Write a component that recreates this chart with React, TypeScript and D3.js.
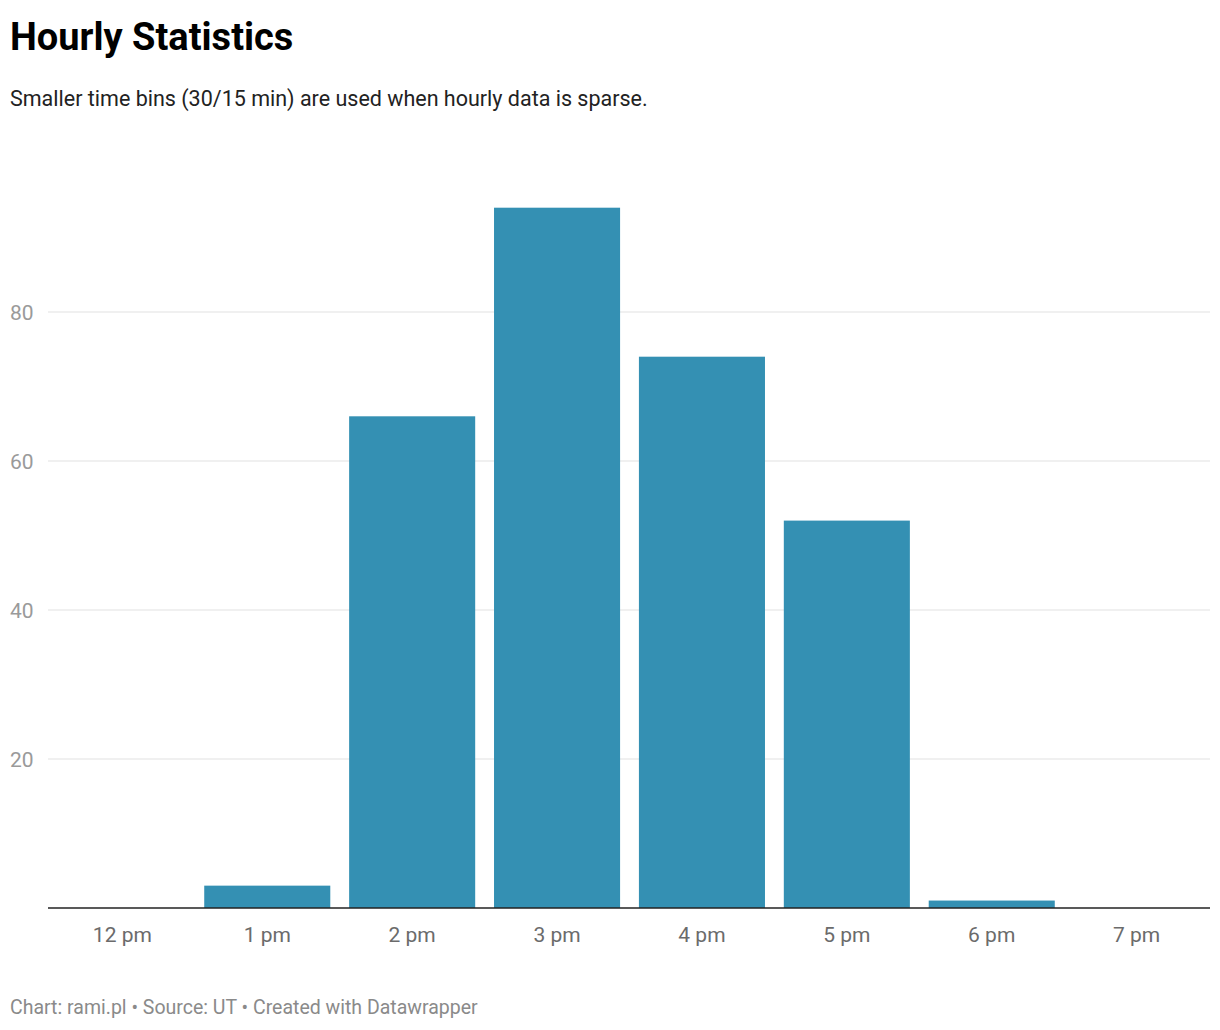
import * as d3 from "d3";

const categories = ["12 pm", "1 pm", "2 pm", "3 pm", "4 pm", "5 pm", "6 pm", "7 pm"];
const values = [0, 3, 66, 94, 74, 52, 1, 0];
const yTicks = [20, 40, 60, 80];

const W = 1220;
const H = 1030;
const font = "Roboto, 'Noto Sans', sans-serif";

export default function App() {
  const x = d3.scaleBand<string>().domain(categories).range([40.5, 1218.5]).padding(0.13);
  const y = d3.scaleLinear().domain([0, 80]).range([908, 312]);

  return (
    <svg width={W} height={H} style={{ position: "absolute", left: 0, top: 0, background: "#fff" }}>
      <text x={10} y={50} fontFamily={font} fontWeight={700} fontSize={38} fill="#000">
        Hourly Statistics
      </text>
      <text x={10} y={106} fontFamily={font} fontSize={21.5} fill="#222">
        Smaller time bins (30/15 min) are used when hourly data is sparse.
      </text>

      {yTicks.map((t) => (
        <g key={t}>
          <line x1={48} x2={1210} y1={y(t)} y2={y(t)} stroke="#e2e2e2" strokeWidth={1.2} />
          <text x={10} y={y(t) + 8} fontFamily={font} fontSize={21} fill="#9a9a9a">
            {t}
          </text>
        </g>
      ))}

      {categories.map((c, i) => (
        <rect
          key={c}
          x={x(c)}
          y={y(values[i])}
          width={x.bandwidth()}
          height={y(0) - y(values[i])}
          fill="#3490b3"
        />
      ))}

      <line x1={48} x2={1210} y1={y(0)} y2={y(0)} stroke="#222" strokeWidth={1.5} />

      {categories.map((c) => (
        <text
          key={c}
          x={(x(c) ?? 0) + x.bandwidth() / 2}
          y={942}
          textAnchor="middle"
          fontFamily={font}
          fontSize={21}
          fill="#6b6b6b"
        >
          {c}
        </text>
      ))}

      <text x={10} y={1014} fontFamily={font} fontSize={19.5} fill="#8a8a8a">
        Chart: rami.pl • Source: UT • Created with Datawrapper
      </text>
    </svg>
  );
}
